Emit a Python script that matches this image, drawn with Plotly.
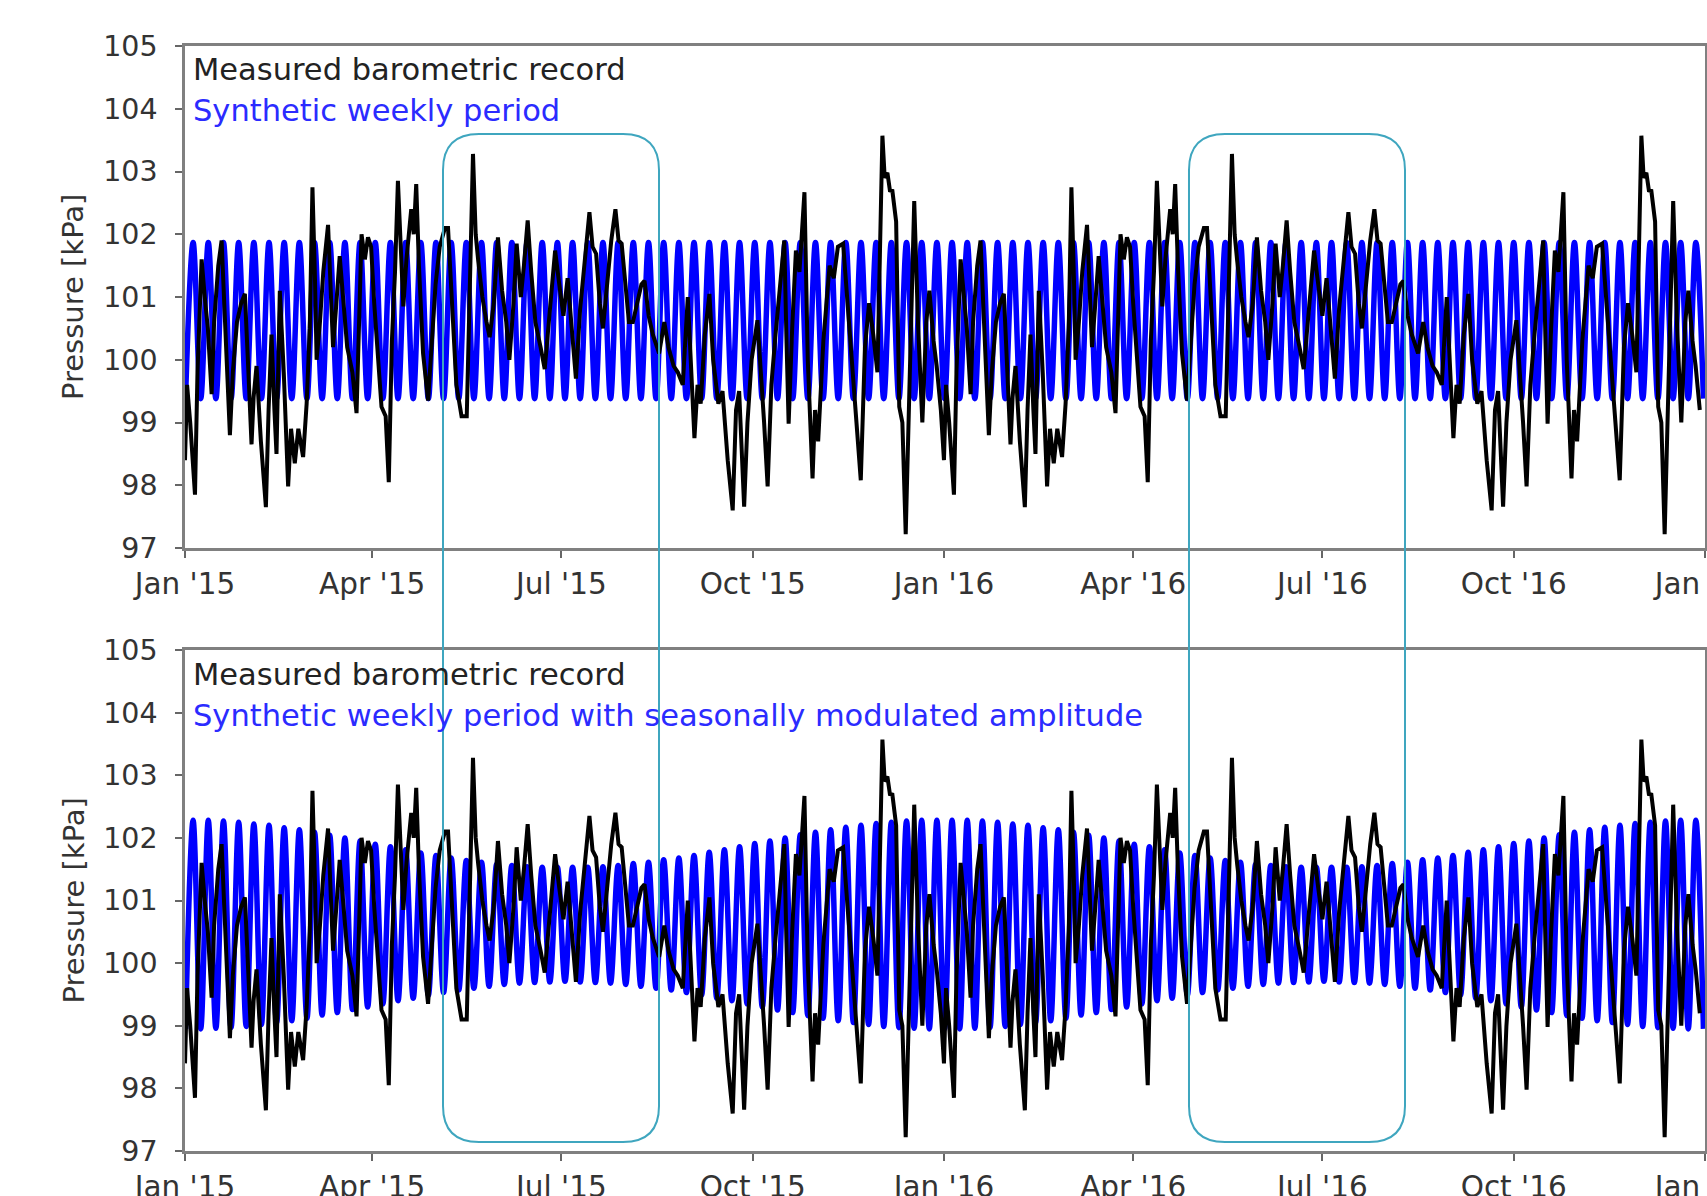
import pandas as pd
import plotly.graph_objects as go

# ---------------- data ----------------
# Measured barometric record (kPa); day offset within the year.
# The chart shows the same yearly record for 2015 and for 2016.
record_days = [
    0, 1, 2.5, 4.8, 6, 8, 9.5, 11, 12.8, 14, 16, 17.6, 19, 20.5, 21.6, 23, 25, 27, 28.8, 30.5,
    32, 33, 34.4, 36.5, 38.9, 40.2, 41.6, 43, 44, 45.6, 47.5, 49.6, 51, 52.8, 54.5, 56.8, 58.5, 60,
    61.3, 62.5, 63.3, 64.9, 66.5, 68.8, 70, 71.2, 72.8, 74.4, 76.5, 78, 80.5, 82.5, 84.9, 86.5, 88,
    89.5, 91, 93, 94.5, 96.5, 98, 99.5, 101, 102.4, 104, 105, 106.5, 108.8, 110, 111.2, 112.5, 114.5,
    116.9, 118.5, 120.5, 122.5, 125, 126.5, 128.5, 130.5, 133, 135.5, 138.5, 139.8, 141, 143, 145,
    146.5, 148.5, 150.5, 152.5, 154.5, 156, 158, 159.5, 161.5, 163, 164.8, 166.5, 168.5, 171, 173,
    175.5, 178, 180, 182, 184, 186, 188, 190, 192.5, 194.5, 196, 197.7, 199.5, 201, 203, 205, 207,
    208.5, 210, 212, 213.5, 215.4, 217.5, 219.5, 221, 223, 225, 228, 230.5, 232.5, 235, 237, 239.4,
    241.8, 243.5, 245, 246.5, 248, 250, 252.2, 254, 256.5, 258.5, 261, 263.4, 265, 266.5, 268.9,
    270.5, 272.5, 275.3, 277, 278.5, 280.2, 282, 284, 286, 288.2, 289.2, 290.3, 292, 293.8, 295.5,
    297.9, 299.5, 301.8, 303, 304.5, 307, 310, 312, 314, 316.5, 318.5, 320, 322, 325, 327, 329, 331,
    333, 335.4, 336.5, 337.8, 339, 340.2, 342, 343.5, 345, 346.6, 348.5, 350.7, 352.5, 354.6, 356.5,
    358, 360, 361.5, 363.5,
]
record_kpa = [
    98.4, 99.6, 99.0, 97.85, 99.8, 101.6, 101.0, 100.5, 99.45, 100.6, 101.5, 101.9, 100.8, 99.6, 98.8,
    99.8, 100.6, 100.9, 101.05, 99.8,
    98.65, 99.4, 99.9, 98.7, 97.65, 99.2, 100.4, 99.2, 98.5, 101.1, 99.8, 97.98, 98.9, 98.35, 98.9,
    98.45, 99.3, 100.5,
    102.75, 101.3, 100.0, 100.6, 101.4, 102.15, 101.2, 100.2, 100.9, 101.65, 100.8, 100.2, 99.8, 99.15,
    102.0, 101.6, 101.95,
    101.8, 100.9, 99.9, 99.25, 99.1, 98.05, 100.3, 101.4, 102.85, 101.4, 100.85, 101.6, 102.4, 102.0,
    102.8, 101.5, 100.1,
    99.35, 100.2, 101.2, 101.8, 102.1, 102.1, 100.8, 99.6, 99.1, 99.1, 103.28, 102.0, 101.58, 101.0,
    100.6,
    100.36, 100.9, 101.95, 101.1, 100.6, 100.0, 100.9, 101.85, 101.0, 101.5, 102.22, 101.4, 100.6,
    100.2, 99.85,
    100.8, 101.74, 101.2, 100.7, 101.3, 100.4, 99.7, 100.8, 101.6, 102.35, 101.8, 101.69, 100.9, 100.5,
    101.2, 101.9, 102.4,
    101.9, 101.85, 101.2, 100.6, 100.6, 100.9, 101.2, 101.26, 100.7, 100.4, 100.1, 100.6, 100.2, 99.9,
    99.8, 99.6,
    101.0, 99.8, 98.75, 99.6, 99.3, 100.4, 101.05, 100.0, 99.3, 99.5, 98.4, 97.6, 99.2, 99.5, 97.66,
    99.0, 100.0, 100.63, 99.8, 99.0, 97.98, 99.6, 100.4, 101.2, 101.9, 100.4, 98.98, 100.5, 101.74,
    101.4,
    102.67, 100.0, 98.11, 99.2, 98.7, 100.3, 101.5, 101.3, 101.8, 101.85, 101.0, 100.4, 99.5, 98.08,
    100.2, 100.9, 100.4,
    99.8, 103.57, 102.9, 102.98, 102.7, 102.69, 102.2, 99.25, 99.0, 97.22, 99.8, 102.53, 100.6, 99.0,
    100.6,
    101.1, 100.3, 99.9, 99.2,
]
record_year_starts = ["2015-01-01", "2016-01-01"]

# Synthetic weekly signal: turning points (trough, peak, trough, ...) per cycle, 50 cycles per year
synthetic_first_turn_day = 0.25
synthetic_half_period_days = 3.65
weekly_peak_kpa = [101.87] * 50
weekly_trough_kpa = [99.38] * 50
modulated_peak_kpa = [
    102.28, 102.28, 102.27, 102.25, 102.22, 102.20, 102.16, 102.13, 102.09, 102.04,
    102.00, 101.95, 101.90, 101.86, 101.81, 101.76, 101.72, 101.68, 101.64, 101.61,
    101.58, 101.56, 101.54, 101.53, 101.53, 101.53, 101.53, 101.54, 101.56, 101.59,
    101.61, 101.65, 101.68, 101.72, 101.77, 101.81, 101.86, 101.91, 101.95, 102.00,
    102.05, 102.09, 102.13, 102.17, 102.20, 102.23, 102.25, 102.27, 102.28, 102.28,
]
modulated_trough_kpa = [
    98.95, 98.95, 98.96, 98.97, 98.99, 99.02, 99.05, 99.08, 99.12, 99.17,
    99.21, 99.26, 99.30, 99.35, 99.40, 99.44, 99.49, 99.53, 99.57, 99.60,
    99.63, 99.66, 99.68, 99.69, 99.70, 99.71, 99.70, 99.69, 99.68, 99.66,
    99.63, 99.60, 99.57, 99.53, 99.49, 99.44, 99.40, 99.35, 99.30, 99.25,
    99.21, 99.16, 99.12, 99.08, 99.05, 99.02, 98.99, 98.97, 98.96, 98.95,
]

label_record = "Measured barometric record"
label_weekly = "Synthetic weekly period"
label_modulated = "Synthetic weekly period with seasonally modulated amplitude"
y_title = "Pressure [kPa]"

# ---------------- build series ----------------
origin = pd.Timestamp("2015-01-01")


def record_series():
    xs, ys = [], []
    for ys_start in record_year_starts:
        start = pd.Timestamp(ys_start)
        for d, v in zip(record_days, record_kpa):
            xs.append(start + pd.to_timedelta(d, unit="D"))
            ys.append(v)
    return xs, ys


def synthetic_series(peaks, troughs):
    xs, ys = [], []
    j = 0
    for _ in record_year_starts:
        for tr, pk in zip(troughs, peaks):
            for v in (tr, pk):
                xs.append(origin + pd.to_timedelta(synthetic_first_turn_day + j * synthetic_half_period_days, unit="D"))
                ys.append(v)
                j += 1
    xs.append(origin + pd.to_timedelta(synthetic_first_turn_day + j * synthetic_half_period_days, unit="D"))
    ys.append(troughs[0])
    return xs, ys


rx, ry = record_series()
wx, wy = synthetic_series(weekly_peak_kpa, weekly_trough_kpa)
mx, my = synthetic_series(modulated_peak_kpa, modulated_trough_kpa)

# ---------------- figure ----------------
W, H = 1707, 1196
FONT = "DejaVu Sans"
left_px, right_px = 185, 1705
top_ax = (46, 548)
bot_ax = (650, 1151)


def py(p):
    return 1 - p / H


BLUE_W = 5.5
BLACK_W = 4

fig = go.Figure()
fig.add_trace(go.Scatter(x=wx, y=wy, mode="lines", line=dict(color="#0000ff", width=BLUE_W, shape="spline"),
                         xaxis="x", yaxis="y", showlegend=False, hoverinfo="skip"))
fig.add_trace(go.Scatter(x=rx, y=ry, mode="lines", line=dict(color="black", width=BLACK_W),
                         xaxis="x", yaxis="y", showlegend=False))
fig.add_trace(go.Scatter(x=mx, y=my, mode="lines", line=dict(color="#0000ff", width=BLUE_W, shape="spline"),
                         xaxis="x2", yaxis="y2", showlegend=False, hoverinfo="skip"))
fig.add_trace(go.Scatter(x=rx, y=ry, mode="lines", line=dict(color="black", width=BLACK_W),
                         xaxis="x2", yaxis="y2", showlegend=False))

xcommon = dict(
    type="date", range=["2015-01-01", "2017-01-01"], tick0="2015-01-01", dtick="M3",
    tickformat="%b '%y", ticks="outside", ticklen=7, tickwidth=1.5, tickcolor="#666",
    showline=True, linecolor="#808080", linewidth=2.5, mirror=True, showgrid=False, zeroline=False,
    tickfont=dict(family=FONT, size=29.5, color="#333"), ticklabelstandoff=1, automargin=False,
    ticklabeloverflow="allow",
    domain=[left_px / W, right_px / W],
)
ycommon = dict(
    range=[97, 105], tick0=97, dtick=1, ticks="outside", ticklen=7, tickwidth=1.5, tickcolor="#666",
    showline=True, linecolor="#808080", linewidth=2.5, mirror=True, showgrid=False, zeroline=False,
    tickfont=dict(family=FONT, size=28.5, color="#333"), ticklabelstandoff=12, automargin=False,
    ticklabeloverflow="allow",
)

fig.update_layout(
    width=W, height=H, margin=dict(l=0, r=0, t=0, b=0, pad=0),
    paper_bgcolor="white", plot_bgcolor="white",
    xaxis=dict(xcommon, anchor="y"),
    yaxis=dict(ycommon, anchor="x", domain=[py(top_ax[1]), py(top_ax[0])]),
    xaxis2=dict(xcommon, anchor="y2"),
    yaxis2=dict(ycommon, anchor="x2", domain=[py(bot_ax[1]), py(bot_ax[0])]),
)

ann = []
for (t, b) in (top_ax, bot_ax):
    ann.append(dict(text=y_title, x=73 / W, y=py((t + b) / 2), xref="paper", yref="paper", textangle=-90,
                    showarrow=False, xanchor="center", yanchor="middle",
                    font=dict(family=FONT, size=29, color="#333")))
texts = [
    (label_record, 70, "#222"),
    (label_weekly, 111, "#2b2bff"),
    (label_record, 674, "#222"),
    (label_modulated, 715, "#2b2bff"),
]
for txt, ypx, col in texts:
    ann.append(dict(text=txt, x=191 / W, y=py(ypx), xref="paper", yref="paper", showarrow=False,
                    xanchor="left", yanchor="middle", font=dict(family=FONT, size=30.5, color=col)))
fig.update_layout(annotations=ann)


def rounded_rect(x0, y0, x1, y1, r):
    def P(x, y):
        return f"{x / W:.5f},{py(y):.5f}"
    return (f"M {P(x0 + r, y0)} L {P(x1 - r, y0)} Q {P(x1, y0)} {P(x1, y0 + r)} "
            f"L {P(x1, y1 - r)} Q {P(x1, y1)} {P(x1 - r, y1)} L {P(x0 + r, y1)} "
            f"Q {P(x0, y1)} {P(x0, y1 - r)} L {P(x0, y0 + r)} Q {P(x0, y0)} {P(x0 + r, y0)} Z")


shapes = []
for (x0, x1) in ((443, 659), (1189, 1405)):
    shapes.append(dict(type="path", path=rounded_rect(x0, 134, x1, 1142, 36), xref="paper", yref="paper",
                       line=dict(color="#3fa6bf", width=2), fillcolor="rgba(0,0,0,0)", layer="above"))
fig.update_layout(shapes=shapes)

fig.write_html("out.html")
